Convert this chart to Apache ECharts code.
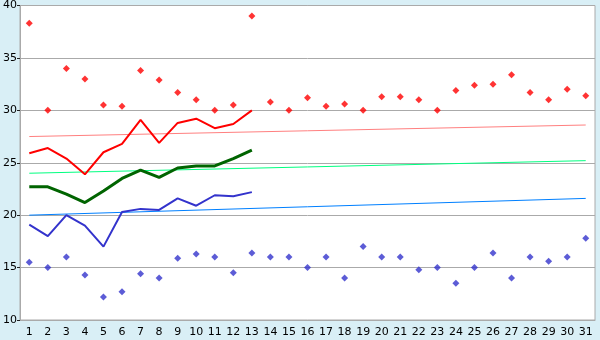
<!DOCTYPE html>
<html>
<head>
<meta charset="utf-8">
<script src="https://cdn.jsdelivr.net/npm/echarts@6/dist/echarts.min.js"></script>
<style>
html,body{margin:0;padding:0;background:#d9eff6;}
#c{width:600px;height:340px;}
</style>
</head>
<body>
<div id="c"></div>
<script>
var days = [];
for (var d = 1; d <= 31; d++) days.push(String(d));

var maxPoints = [38.3,30.0,34.0,33.0,30.5,30.4,33.8,32.9,31.7,31.0,30.0,30.5,39.0,30.8,30.0,31.2,30.4,30.6,30.0,31.3,31.3,31.0,30.0,31.9,32.4,32.5,33.4,31.7,31.0,32.0,31.4];
var minPoints = [15.5,15.0,16.0,14.3,12.2,12.7,14.4,14.0,15.9,16.3,16.0,14.5,16.4,16.0,16.0,15.0,16.0,14.0,17.0,16.0,16.0,14.8,15.0,13.5,15.0,16.4,14.0,16.0,15.6,16.0,17.8];
var maxLine = [25.9,26.4,25.4,23.9,26.0,26.8,29.1,26.9,28.8,29.2,28.3,28.7,30.0];
var avgLine = [22.7,22.7,22.0,21.2,22.3,23.5,24.3,23.6,24.5,24.7,24.7,25.4,26.2];
var minLine = [19.1,18.0,20.0,19.0,17.0,20.3,20.6,20.5,21.6,20.9,21.9,21.8,22.2];
var trendMax = [27.5, 28.6];
var trendAvg = [24.0, 25.2];
var trendMin = [20.0, 21.6];

function trend(arr){ return [[0, arr[0]], [days.length - 1, arr[1]]]; }

var chart = echarts.init(document.getElementById('c'), null, {renderer:'canvas'});
var font = 'DejaVu Sans';
chart.setOption({
  animation: false,
  backgroundColor: '#d9eff6',
  grid: {left: 20, right: 5, top: 5, bottom: 20, show: true, backgroundColor: '#ffffff', borderColor: '#aaaaaa', borderWidth: 1},
  xAxis: {
    type: 'category', data: days, boundaryGap: true,
    axisLine: {lineStyle: {color: '#aaaaaa'}},
    axisTick: {alignWithLabel: true, length: 5, lineStyle: {color: '#222'}},
    axisLabel: {color: '#000', fontFamily: font, fontSize: 11, margin: 7, interval: 0},
    splitLine: {show: false}
  },
  yAxis: {
    type: 'value', min: 10, max: 40, interval: 5,
    axisLine: {show: true, lineStyle: {color: '#aaaaaa'}},
    axisTick: {show: true, length: 3, lineStyle: {color: '#222'}},
    axisLabel: {color: '#000', fontFamily: font, fontSize: 11, margin: 3},
    splitLine: {lineStyle: {color: '#aaaaaa'}}
  },
  series: [
    {type: 'line', data: trend(trendMax), symbol: 'none', lineStyle: {color: '#ff8080', width: 1}, z: 2},
    {type: 'line', data: trend(trendAvg), symbol: 'none', lineStyle: {color: '#00ff80', width: 1}, z: 2},
    {type: 'line', data: trend(trendMin), symbol: 'none', lineStyle: {color: '#0080ff', width: 1}, z: 2},
    {type: 'line', data: maxLine, symbol: 'none', lineStyle: {color: '#ff0000', width: 2}, z: 3},
    {type: 'line', data: avgLine, symbol: 'none', lineStyle: {color: '#006400', width: 3}, z: 3},
    {type: 'line', data: minLine, symbol: 'none', lineStyle: {color: '#3333cc', width: 2}, z: 3},
    {type: 'scatter', data: maxPoints, symbol: 'diamond', symbolSize: 7, itemStyle: {color: '#ff0000'}, z: 4},
    {type: 'scatter', data: minPoints, symbol: 'diamond', symbolSize: 7, itemStyle: {color: '#3333cc'}, z: 4}
  ]
});
</script>
</body>
</html>
